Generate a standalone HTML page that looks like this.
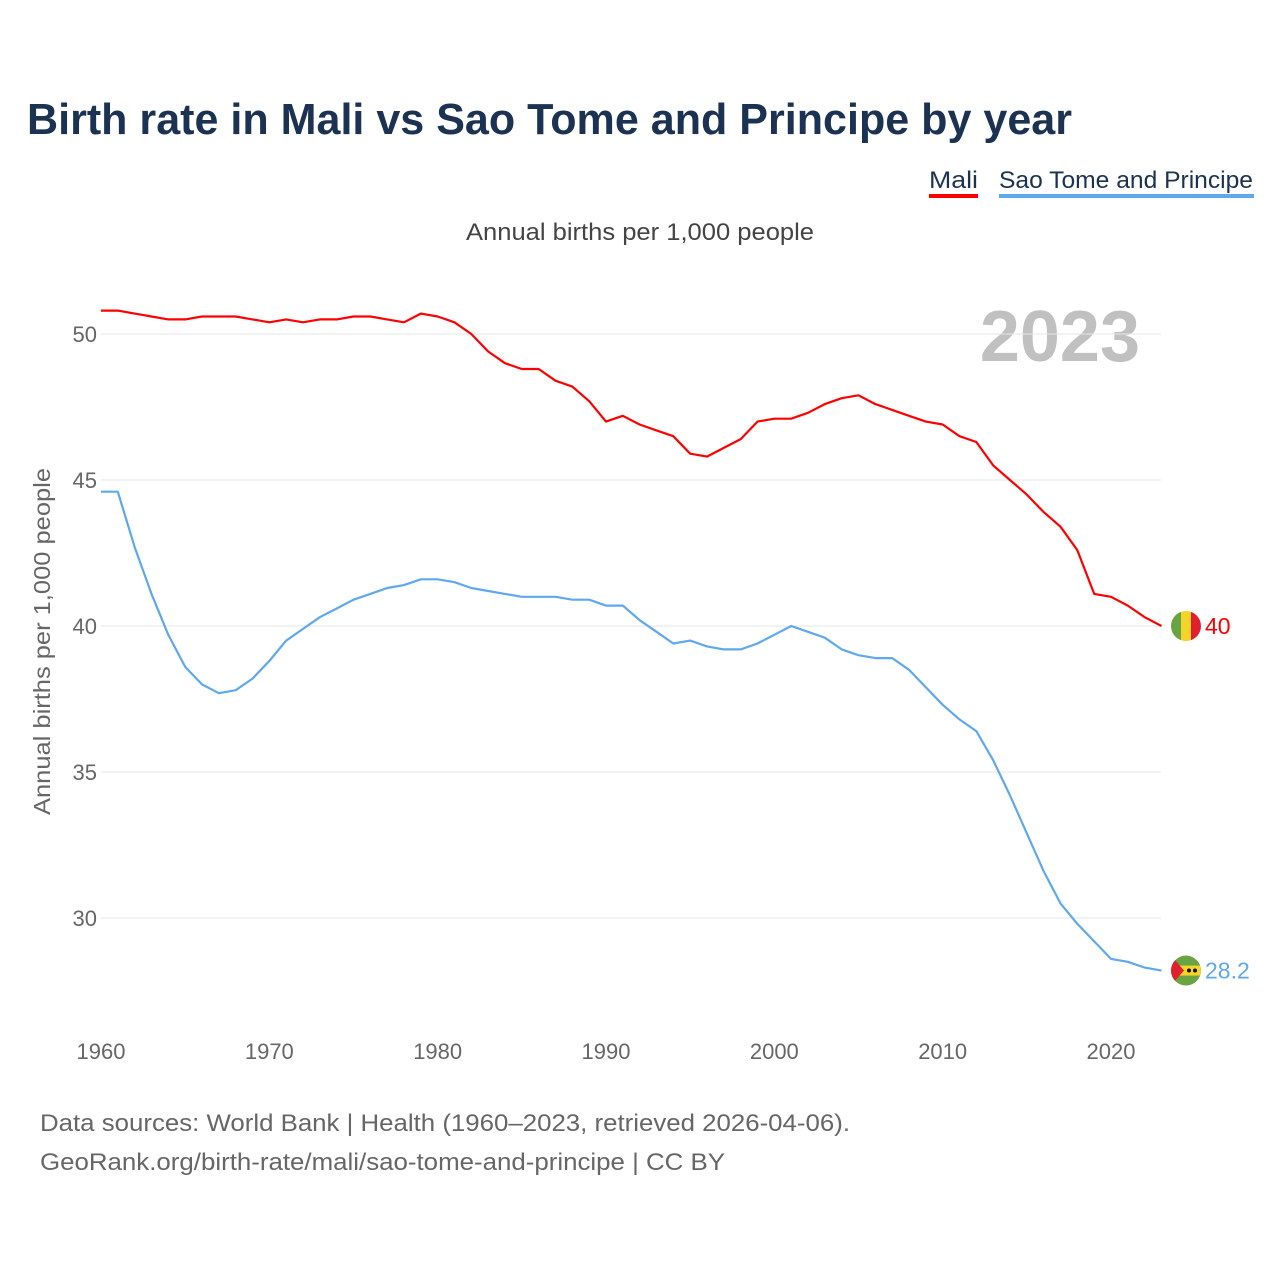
<!DOCTYPE html>
<html><head><meta charset="utf-8"><style>
body{margin:0;background:#fff;font-family:"Liberation Sans",sans-serif;}
svg text{font-family:"Liberation Sans",sans-serif;}
</style></head><body>
<svg id="chart" width="1280" height="1280" viewBox="0 0 1280 1280">
<text x="27" y="134" font-size="44" font-weight="bold" fill="#1b3252" textLength="1045" lengthAdjust="spacingAndGlyphs">Birth rate in Mali vs Sao Tome and Principe by year</text>
<g>
<text x="929" y="188" font-size="24" fill="#1b3252" textLength="49" lengthAdjust="spacingAndGlyphs">Mali</text>
<rect x="929" y="194" width="49" height="4" fill="#ff0000"/>
<text x="999" y="188" font-size="24" fill="#1b3252" textLength="254" lengthAdjust="spacingAndGlyphs">Sao Tome and Principe</text>
<rect x="999" y="194" width="255" height="4" fill="#5ea8ef"/>
</g>
<text x="466" y="240" font-size="24" fill="#444" textLength="348" lengthAdjust="spacingAndGlyphs">Annual births per 1,000 people</text>
<text x="1140" y="361" font-size="72" font-weight="bold" fill="#c0c0c0" text-anchor="end">2023</text>
<text transform="translate(50,815) rotate(-90)" font-size="23" fill="#666" textLength="347" lengthAdjust="spacingAndGlyphs">Annual births per 1,000 people</text>
<g id="grid"></g><g id="ticks"></g><g id="lines"></g><g id="ends"></g>
<text x="40" y="1131" font-size="24" fill="#666" textLength="810" lengthAdjust="spacingAndGlyphs">Data sources: World Bank | Health (1960–2023, retrieved 2026-04-06).</text>
<text x="40" y="1170" font-size="24" fill="#666" textLength="685" lengthAdjust="spacingAndGlyphs">GeoRank.org/birth-rate/mali/sao-tome-and-principe | CC BY</text>
</svg>
<script>
const startYear = 1960;
const mali = [50.8,50.8,50.7,50.6,50.5,50.5,50.6,50.6,50.6,50.5,50.4,50.5,50.4,50.5,50.5,50.6,50.6,50.5,50.4,50.7,50.6,50.4,50.0,49.4,49.0,48.8,48.8,48.4,48.2,47.7,47.0,47.2,46.9,46.7,46.5,45.9,45.8,46.1,46.4,47.0,47.1,47.1,47.3,47.6,47.8,47.9,47.6,47.4,47.2,47.0,46.9,46.5,46.3,45.5,45.0,44.5,43.9,43.4,42.6,41.1,41.0,40.7,40.3,40.0];
const saoTome = [44.6,44.6,42.7,41.1,39.7,38.6,38.0,37.7,37.8,38.2,38.8,39.5,39.9,40.3,40.6,40.9,41.1,41.3,41.4,41.6,41.6,41.5,41.3,41.2,41.1,41.0,41.0,41.0,40.9,40.9,40.7,40.7,40.2,39.8,39.4,39.5,39.3,39.2,39.2,39.4,39.7,40.0,39.8,39.6,39.2,39.0,38.9,38.9,38.5,37.9,37.3,36.8,36.4,35.4,34.2,32.9,31.6,30.5,29.8,29.2,28.6,28.5,28.3,28.2];
const yTicks = [30,35,40,45,50];
const xTicks = [1960,1970,1980,1990,2000,2010,2020];
const endLabels = ["40","28.2"];

const NS="http://www.w3.org/2000/svg";
const xs = y => 101 + (y-1960)*(1010/60);
const ys = v => 334 + (50-v)*29.2;
function mk(t,a,p){const e=document.createElementNS(NS,t);for(const k in a)e.setAttribute(k,a[k]);p.appendChild(e);return e;}
const grid=document.getElementById('grid'), ticks=document.getElementById('ticks'), lines=document.getElementById('lines'), ends=document.getElementById('ends');
yTicks.forEach(v=>{
  const l=mk('line',{x1:101,x2:1161,y1:ys(v),y2:ys(v),stroke:'#e6e6e6','stroke-width':1},grid);
  
  
  const t=mk('text',{x:97,y:ys(v)+8,'font-size':22,fill:'#666','text-anchor':'end'},ticks);
  t.textContent=v;
  
  
});
xTicks.forEach(y=>{
  const t=mk('text',{x:xs(y),y:1059,'font-size':22,fill:'#666','text-anchor':'middle'},ticks);
  t.textContent=y;
  
  
});
function line(data,color,name){
  const d=data.map((v,i)=>(i?'L':'M')+xs(startYear+i).toFixed(1)+','+ys(v).toFixed(1)).join('');
  const p=mk('path',{d:d,fill:'none',stroke:color,'stroke-width':2.2,'stroke-linejoin':'round'},lines);
  
  
}
line(mali,'#ff0000','line-mali');
line(saoTome,'#5ea8ef','line-sao-tome');
const cx=1186;
const my=ys(mali[mali.length-1]);
const g1=mk('g',{},ends);


const cp1=mk('clipPath',{id:'c1'},g1);mk('circle',{cx:cx,cy:my,r:15},cp1);
const f1=mk('g',{'clip-path':'url(#c1)'},g1);
mk('rect',{x:cx-15,y:my-15,width:10,height:30,fill:'#6aa341'},f1);
mk('rect',{x:cx-5,y:my-15,width:10,height:30,fill:'#f5d328'},f1);
mk('rect',{x:cx+5,y:my-15,width:10,height:30,fill:'#e0202e'},f1);
const t1=mk('text',{x:1205,y:my+8,'font-size':23,fill:'#ff0000'},ends);
t1.textContent=endLabels[0];


const sy=ys(saoTome[saoTome.length-1]);
const g2=mk('g',{},ends);


const cp=mk('clipPath',{id:'c2'},g2);mk('circle',{cx:cx,cy:sy,r:15},cp);
const f2=mk('g',{'clip-path':'url(#c2)'},g2);
mk('rect',{x:cx-15,y:sy-15,width:30,height:30,fill:'#6aa341'},f2);
mk('rect',{x:cx-15,y:sy-5,width:30,height:10,fill:'#f5d328'},f2);
mk('polygon',{points:`${cx-15},${sy-15} ${cx-2},${sy} ${cx-15},${sy+15}`,fill:'#e0202e'},f2);
mk('circle',{cx:cx+3,cy:sy,r:2,fill:'#111'},f2);
mk('circle',{cx:cx+9,cy:sy,r:2,fill:'#111'},f2);
const t2=mk('text',{x:1205,y:sy+8,'font-size':23,fill:'#5ea8ef'},ends);
t2.textContent=endLabels[1];


</script>
</body></html>
